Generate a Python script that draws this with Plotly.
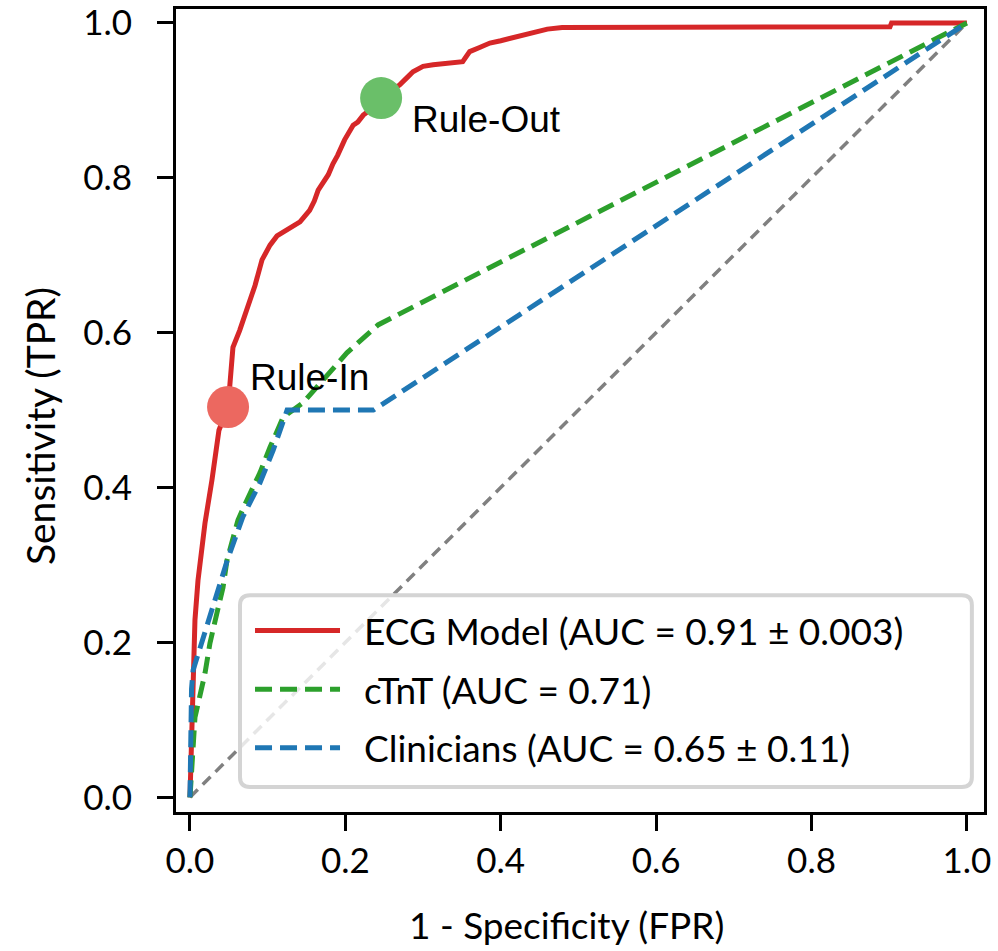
import plotly.graph_objects as go

# ---- data ----
ecg_fpr = [0.0, 0.0013, 0.0026, 0.004, 0.0064, 0.0103, 0.0193, 0.0283, 0.0373, 0.049, 0.0515,
           0.0553, 0.064, 0.0734, 0.0837, 0.0927, 0.103, 0.112, 0.125, 0.1416, 0.154, 0.160,
           0.165, 0.171, 0.178, 0.184, 0.190, 0.199, 0.210, 0.216, 0.223, 0.235, 0.246, 0.258,
           0.270, 0.280, 0.287, 0.300, 0.313, 0.351, 0.356, 0.360, 0.372, 0.386, 0.400,
           0.416, 0.430, 0.441, 0.460, 0.479, 0.901, 0.903, 1.0]
ecg_tpr = [0.0, 0.048, 0.125, 0.177, 0.229, 0.280, 0.354, 0.410, 0.474, 0.504, 0.539,
           0.581, 0.603, 0.629, 0.661, 0.694, 0.713, 0.725, 0.733, 0.743, 0.758, 0.770,
           0.784, 0.793, 0.804, 0.818, 0.829, 0.849, 0.868, 0.872, 0.881, 0.890, 0.903, 0.912,
           0.920, 0.930, 0.937, 0.944, 0.946, 0.950, 0.957, 0.963, 0.968, 0.974, 0.977,
           0.981, 0.985, 0.988, 0.992, 0.994, 0.995, 1.0, 1.0]

ctnt_fpr = [0.0, 0.0026, 0.0064, 0.0193, 0.0257, 0.0347, 0.0425, 0.0476, 0.0618, 0.0734,
            0.090, 0.103, 0.120, 0.145, 0.202, 0.242, 1.0]
ctnt_tpr = [0.0, 0.035, 0.103, 0.160, 0.199, 0.238, 0.271, 0.306, 0.358, 0.384,
            0.419, 0.452, 0.491, 0.509, 0.574, 0.610, 1.0]

clin_fpr = [0.0, 0.002, 0.004, 0.026, 0.048, 0.068, 0.090, 0.107, 0.120, 0.125, 0.236, 1.0]
clin_tpr = [0.0, 0.140, 0.164, 0.233, 0.306, 0.362, 0.406, 0.448, 0.487, 0.500, 0.500, 1.0]

diag = [0.0, 1.0]

rule_in = (0.049, 0.504)
rule_out = (0.246, 0.903)

legend_labels = ["ECG Model (AUC = 0.91 ± 0.003)", "cTnT (AUC = 0.71)", "Clinicians (AUC = 0.65 ± 0.11)"]
tick_vals = [0.0, 0.2, 0.4, 0.6, 0.8, 1.0]
tick_text = ["0.0", "0.2", "0.4", "0.6", "0.8", "1.0"]
x_title = "1 - Specificity (FPR)"
y_title = "Sensitivity (TPR)"

FONT = "Lato"
PAD = "\u00a0\u00a0"

fig = go.Figure()
fig.add_trace(go.Scatter(x=diag, y=diag, mode="lines", showlegend=False, hoverinfo="skip",
                         line=dict(color="#808080", width=3.5, dash="11px,7px")))
fig.add_trace(go.Scatter(x=ecg_fpr, y=ecg_tpr, mode="lines", name=PAD + legend_labels[0], legendgroup="a",
                         line=dict(color="#d62728", width=5)))
fig.add_trace(go.Scatter(x=ctnt_fpr, y=ctnt_tpr, mode="lines", name=PAD + legend_labels[1], legendgroup="b",
                         line=dict(color="#2ca02c", width=5, dash="17px,8px")))
fig.add_trace(go.Scatter(x=clin_fpr, y=clin_tpr, mode="lines", name=PAD + legend_labels[2], legendgroup="c",
                         line=dict(color="#1f77b4", width=5, dash="17px,8px")))
fig.add_trace(go.Scatter(x=[rule_in[0]], y=[rule_in[1]], mode="markers", showlegend=False,
                         marker=dict(color="#ec6860", size=42, line=dict(width=0))))
fig.add_trace(go.Scatter(x=[rule_out[0]], y=[rule_out[1]], mode="markers", showlegend=False,
                         marker=dict(color="#6abf69", size=42, line=dict(width=0))))

fig.add_annotation(x=0.0746, y=0.5426, text="Rule-In", showarrow=False, xanchor="left", yanchor="middle",
                   font=dict(family="Liberation Sans, Arial", size=37, color="black"))
fig.add_annotation(x=0.283, y=0.875, text="Rule-Out", showarrow=False, xanchor="left", yanchor="middle",
                   font=dict(family="Liberation Sans, Arial", size=37, color="black"))

# axis titles
fig.add_annotation(x=0.4827, y=-0.1407, xref="paper", yref="paper", text=x_title, showarrow=False,
                   xanchor="center", yanchor="middle", font=dict(family=FONT, size=37, color="black"))
fig.add_annotation(x=-0.1683, y=0.4807, xref="paper", yref="paper", text=y_title, showarrow=False,
                   textangle=-90, xanchor="center", yanchor="middle", font=dict(family=FONT, size=39, color="black"))

# rounded legend frame
W, H = 808.0, 803.0
x0, x1 = 0.0792, 0.985
y0, y1 = 0.0311, 0.270
rx, ry = 10 / W, 10 / H
path = (f"M {x0+rx},{y0} L {x1-rx},{y0} Q {x1},{y0} {x1},{y0+ry} L {x1},{y1-ry} Q {x1},{y1} {x1-rx},{y1} "
        f"L {x0+rx},{y1} Q {x0},{y1} {x0},{y1-ry} L {x0},{y0+ry} Q {x0},{y0} {x0+rx},{y0} Z")
fig.add_shape(type="path", path=path, xref="paper", yref="paper", layer="above",
              fillcolor="rgba(255,255,255,0.8)", line=dict(color="#d4d4d4", width=4))

axis_common = dict(showline=True, linecolor="black", linewidth=3, mirror=True, showgrid=False, zeroline=False,
                   ticks="outside", ticklen=16, tickwidth=3, tickcolor="black", automargin=False,
                   tickvals=tick_vals, ticktext=tick_text,
                   tickfont=dict(family=FONT, size=35, color="black"))
fig.update_xaxes(range=[-0.018, 1.022], ticklabelstandoff=0, **axis_common)
fig.update_yaxes(range=[-0.019, 1.018], ticklabelstandoff=18, **axis_common)

fig.update_layout(
    width=998, height=951,
    margin=dict(l=176, r=14, t=9, b=139),
    plot_bgcolor="white", paper_bgcolor="white",
    legend=dict(x=0.0916, y=0.264, xanchor="left", yanchor="top", bgcolor="rgba(0,0,0,0)",
                borderwidth=0, font=dict(family=FONT, size=37, color="black"),
                itemwidth=85, tracegroupgap=7.5),
)

fig.write_html("out.html", config={"displayModeBar": False},
               post_script="document.body.style.margin='0px'; document.body.style.overflow='hidden';")
